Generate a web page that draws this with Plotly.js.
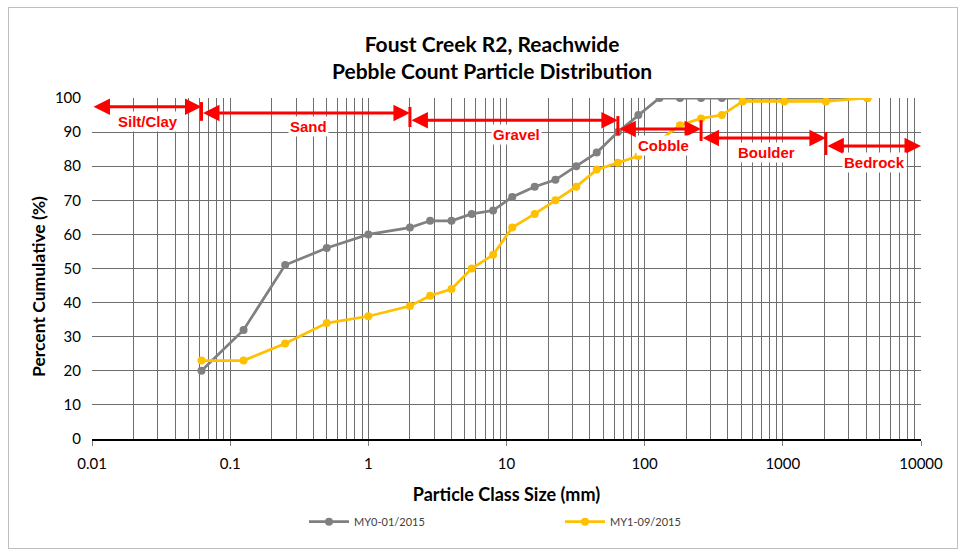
<!DOCTYPE html>
<html>
<head>
<meta charset="utf-8">
<script src="https://cdn.plot.ly/plotly-3.0.1.min.js"></script>
<style>
html,body{margin:0;padding:0;background:#fff;}
#wrap{position:relative;width:968px;height:555px;}
#chart{width:968px;height:555px;}
#frame{position:absolute;left:8px;top:7px;width:948px;height:540px;border:1px solid #bfbfbf;pointer-events:none;}
</style>
</head>
<body>
<div id="wrap"><div id="chart"></div><div id="frame"></div></div>
<script>
// Particle class sizes (mm)
const sizes = [0.062, 0.125, 0.25, 0.5, 1, 2, 2.8, 4, 5.6, 8, 11, 16, 22.6, 32, 45, 64, 90, 128, 180, 256, 362, 512, 1024, 2048, 4096];
// Cumulative percent
const my0 = [20, 32, 51, 56, 60, 62, 64, 64, 66, 67, 71, 74, 76, 80, 84, 90, 95, 100, 100, 100, 100, 100, 100, 100, 100];
const my1 = [23, 23, 28, 34, 36, 39, 42, 44, 50, 54, 62, 66, 70, 74, 79, 81, 83, null, 92, 94, 95, 99, 99, 99, 100];
const seriesNames = ["MY0-01/2015", "MY1-09/2015"];

// Size class annotations
const classNames = ["Silt/Clay", "Sand", "Gravel", "Cobble", "Boulder", "Bedrock"];
const classStart = [0.01, 0.062, 2, 64, 256, 2048];
const classEnd = [0.062, 2, 64, 256, 2048, 10000];
const arrowY = [97.4, 95.6, 93.5, 90.9, 88.3, 85.9];
const labelX = [0.0254, 0.366, 11.9, 136, 767, 4570];
const labelY = [93.0, 91.5, 89.4, 86.2, 83.9, 81.2];
// Boundary bars
const barX = [0.062, 2, 64, 256, 2048];
const barTop = [98.8, 97.4, 94.7, 93.5, 90.0];
const barBottom = [93.3, 91.5, 89.1, 87.4, 83.3];

const xTickVals = [0.01, 0.1, 1, 10, 100, 1000, 10000];
const xTickText = ["0.01", "0.1", "1", "10", "100", "1000", "10000"];

const narrow = 'Lato, "Open Sans", Arial, sans-serif';
const RED = '#ff0000';
const GRID = '#6e6e6e';

const traces = [
  {x: sizes, y: my0, name: seriesNames[0], type: 'scatter', mode: 'lines+markers',
   line: {color: '#808080', width: 2.75}, marker: {color: '#808080', size: 8}, connectgaps: true},
  {x: sizes, y: my1, name: seriesNames[1], type: 'scatter', mode: 'lines+markers',
   line: {color: '#ffc000', width: 2.75}, marker: {color: '#ffc000', size: 8}, connectgaps: true}
];

const annotations = [];
classNames.forEach((n, i) => {
  annotations.push({
    x: Math.log10(classEnd[i]), y: arrowY[i], ax: Math.log10(classStart[i]), ay: arrowY[i],
    xref: 'x', yref: 'y', axref: 'x', ayref: 'y', text: '', showarrow: true,
    arrowside: 'end+start', arrowhead: 2, startarrowhead: 2, arrowsize: 1.1, startarrowsize: 1.1,
    arrowwidth: 3, arrowcolor: RED, standoff: 0, startstandoff: 0
  });
  annotations.push({
    x: Math.log10(labelX[i]), y: labelY[i], xref: 'x', yref: 'y', text: '<b>' + n + '</b>',
    showarrow: false, bgcolor: '#ffffff', borderpad: 1,
    font: {family: 'Liberation Sans, Arial, sans-serif', size: 15, color: RED}
  });
});
// y-axis title (offset as in the reference)
annotations.push({
  xref: 'paper', yref: 'paper', x: 0, y: (439 - 287) / 341, xshift: -54, xanchor: 'center', yanchor: 'middle',
  text: '<b>Percent Cumulative (%)</b>', textangle: -90, showarrow: false,
  font: {family: narrow, size: 17.5, color: '#000'}
});

const shapes = barX.map((bx, i) => ({
  type: 'line', xref: 'x', yref: 'y', x0: bx, x1: bx, y0: barBottom[i], y1: barTop[i],
  line: {color: RED, width: 3}
}));

const layout = {
  width: 968, height: 555,
  margin: {l: 92, r: 47, t: 98, b: 116},
  paper_bgcolor: '#ffffff', plot_bgcolor: '#ffffff',
  font: {family: narrow, color: '#000000'},
  title: {text: '<b>Foust Creek R2, Reachwide<br>Pebble Count Particle Distribution</b>',
          font: {family: narrow, size: 21, color: '#000'}, x: 492/968, xref: 'container', xanchor: 'center',
          y: 1 - 52/555, yref: 'container', yanchor: 'middle'},
  xaxis: {
    type: 'log', range: [-2, 4], tickvals: xTickVals, ticktext: xTickText,
    showgrid: true, gridcolor: GRID, gridwidth: 1,
    minor: {dtick: 'D1', showgrid: true, gridcolor: GRID, gridwidth: 1, ticks: ''},
    showline: true, linecolor: '#000', linewidth: 1.5, ticks: 'outside', ticklen: 5, tickcolor: '#7f7f7f',
    ticklabelstandoff: 5,
    tickfont: {family: narrow, size: 15, color: '#000'},
    title: {text: '<b>Particle Class Size (mm)</b>', font: {family: narrow, size: 18, color: '#000'}, standoff: 18},
    zeroline: false, fixedrange: true
  },
  yaxis: {
    range: [0, 100], dtick: 10, showgrid: true, gridcolor: GRID, gridwidth: 1,
    showline: false, ticks: '', ticklabelstandoff: 10, tickfont: {family: narrow, size: 15, color: '#000'},
    zeroline: false, fixedrange: true
  },
  legend: {orientation: 'h', x: (304 - 92) / 829, xanchor: 'left', y: -0.2, yanchor: 'top',
           font: {family: narrow, size: 11, color: '#404040'}, entrywidth: 201, entrywidthmode: 'pixels',
           itemwidth: 40},
  showlegend: true,
  annotations: annotations,
  shapes: shapes
};

Plotly.newPlot('chart', traces, layout, {staticPlot: true, displayModeBar: false});
</script>
</body>
</html>
